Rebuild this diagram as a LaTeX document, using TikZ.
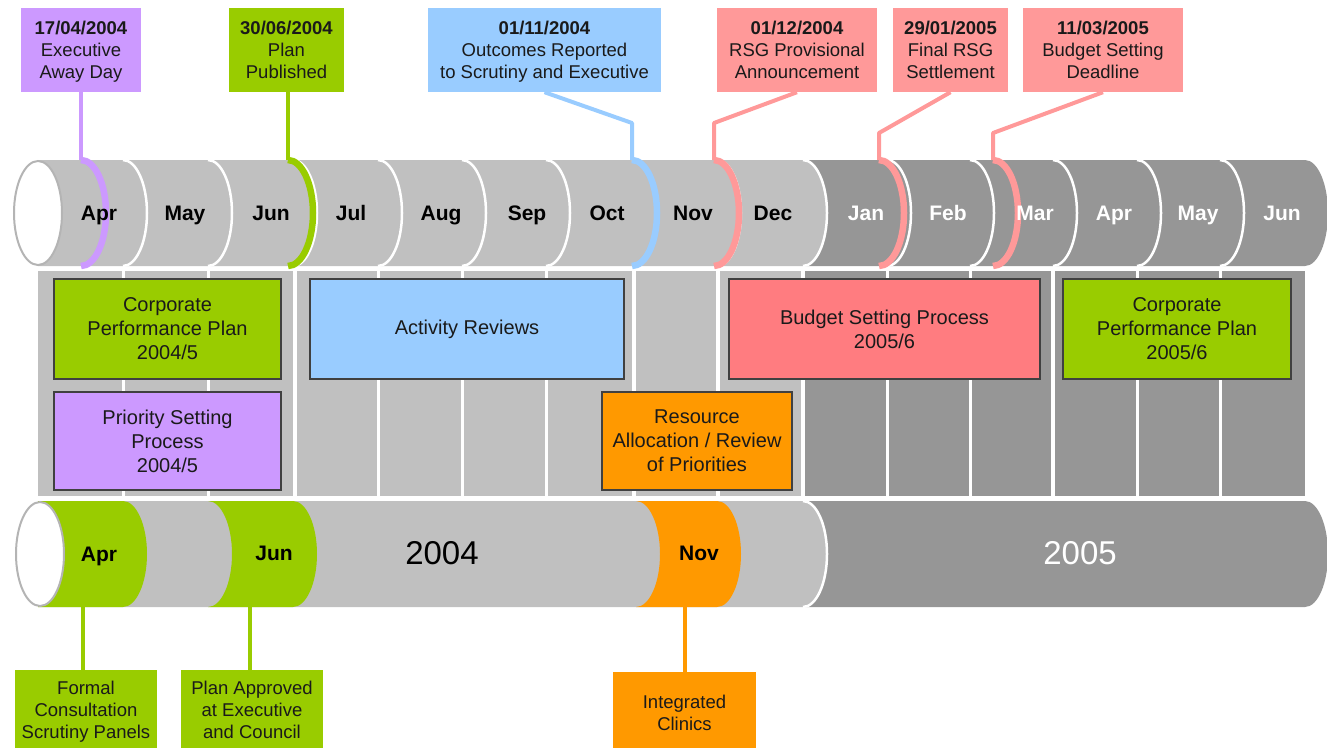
\documentclass[tikz,border=0pt]{standalone}
\usepackage{fontspec}
\setmainfont{Liberation Sans}
\definecolor{lg}{HTML}{C0C0C0}
\definecolor{dg}{HTML}{969696}
\definecolor{capline}{HTML}{B4B4B4}
\definecolor{cpurple}{HTML}{CC99FF}
\definecolor{cgreen}{HTML}{99CC00}
\definecolor{cblue}{HTML}{99CCFF}
\definecolor{cred}{HTML}{FF9999}
\definecolor{corange}{HTML}{FF9900}
\definecolor{cbudget}{HTML}{FF7C80}
\definecolor{boxline}{HTML}{404040}
\definecolor{txt}{HTML}{1A1A1A}
\begin{document}
\begin{tikzpicture}[x=1pt,y=1pt,
  callout/.style={inner sep=0pt, minimum height=84pt},
  ctext/.style={inner sep=0pt, anchor=north, align=center, text=txt, font=\fontsize{18.5}{22}\selectfont},
  midbox/.style={draw=boxline, line width=1.5pt, inner sep=0pt, minimum height=100pt, align=center, text=txt, font=\fontsize{20}{24}\selectfont},
  mlabel/.style={anchor=base, font=\fontsize{21}{25}\selectfont\bfseries},
  stem/.style={line width=4pt},
  marker/.style={line width=6.5pt},
  sepline/.style={white, line width=2.5pt},
  colsep/.style={white, line width=3pt},
  yearlbl/.style={anchor=base, font=\fontsize{33}{38}\selectfont}]
\useasboundingbox (0,-748) rectangle (1327,0);

% ---------- top cylinder ----------
\fill[dg] (1220,-160) -- (1305,-160) arc[start angle=90,end angle=-90,x radius=23,y radius=53] -- (1220,-266) -- cycle;
\foreach \l/\r/\c in {1137/1220/dg, 1053/1137/dg, 970/1053/dg, 887/970/dg, 803/887/dg, 717/803/lg, 632/717/lg, 546/632/lg, 462/546/lg, 378/462/lg, 293/378/lg, 208/293/lg, 123/208/lg, 38/123/lg}{
  \fill[\c] (\l,-160) -- (\r,-160) arc[start angle=90,end angle=-90,x radius=24,y radius=53] -- (\l,-266) -- cycle;
  \draw[sepline] (\r,-160) arc[start angle=90,end angle=-90,x radius=24,y radius=53];
}
\filldraw[fill=white, draw=capline, line width=2pt] (38,-213) ellipse[x radius=24, y radius=52];

% markers on top cylinder
\coordinate (m1) at (81,-160);
\coordinate (m2) at (288,-160);
\coordinate (m3) at (632,-160);
\coordinate (m4) at (714,-160);
\coordinate (m5) at (879,-160);
\coordinate (m6) at (993,-160);
\draw[marker, cpurple] (m1) arc[start angle=90,end angle=-90,x radius=25,y radius=53];
\draw[marker, cgreen] (m2) arc[start angle=90,end angle=-90,x radius=25,y radius=53];
\draw[marker, cblue] (m3) arc[start angle=90,end angle=-90,x radius=25,y radius=53];
\draw[marker, cred] (m4) arc[start angle=90,end angle=-90,x radius=25,y radius=53];
\draw[marker, cred] (m5) arc[start angle=90,end angle=-90,x radius=25,y radius=53];
\draw[marker, cred] (m6) arc[start angle=90,end angle=-90,x radius=25,y radius=53];

% month labels (top)
\foreach \n/\x/\t in {a/99/Apr, b/185/May, c/271/Jun, d/351/Jul, e/441/Aug, f/527/Sep, g/607/Oct, h/693/Nov, i/773/Dec}
  \node[mlabel, text=black] (t\n) at (\x,-220) {\t};
\foreach \n/\x/\t in {j/866/Jan, k/948/Feb, l/1035/Mar, m/1114/Apr, n/1198/May, o/1282/Jun}
  \node[mlabel, text=white] (t\n) at (\x,-220) {\t};

% ---------- top callouts ----------
\node[callout, fill=cpurple, minimum width=120pt] (c1) at (81,-50) {};
\node[callout, fill=cgreen, minimum width=115pt] (c2) at (286.5,-50) {};
\node[callout, fill=cblue, minimum width=233pt] (c3) at (544.5,-50) {};
\node[callout, fill=cred, minimum width=160pt] (c4) at (797,-50) {};
\node[callout, fill=cred, minimum width=115pt] (c5) at (950.5,-50) {};
\node[callout, fill=cred, minimum width=160pt] (c6) at (1103,-50) {};
\node[ctext] (c1t) at (81,-20.5) {\textbf{17/04/2004}\\Executive\\Away Day};
\node[ctext] (c2t) at (286.5,-20.5) {\textbf{30/06/2004}\\Plan\\Published};
\node[ctext] (c3t) at (544.5,-20.5) {\textbf{01/11/2004}\\Outcomes Reported\\to Scrutiny and Executive};
\node[ctext] (c4t) at (797,-20.5) {\textbf{01/12/2004}\\RSG Provisional\\Announcement};
\node[ctext] (c5t) at (950.5,-20.5) {\textbf{29/01/2005}\\Final RSG\\Settlement};
\node[ctext] (c6t) at (1103,-20.5) {\textbf{11/03/2005}\\Budget Setting\\Deadline};

\draw[stem, cpurple] (c1.south) -- (m1);
\draw[stem, cgreen] (c2.south -| m2) -- (m2);
\draw[stem, cblue, line join=round] (c3.south) -- (632,-123) -- (m3);
\draw[stem, cred, line join=round] (c4.south) -- (714,-123) -- (m4);
\draw[stem, cred, line join=round] (c5.south) -- (879,-133) -- (m5);
\draw[stem, cred, line join=round] (c6.south) -- (993,-133) -- (m6);

% ---------- middle panel ----------
\fill[lg] (38,-271) rectangle (803,-496);
\fill[dg] (803,-271) rectangle (1305,-496);
\foreach \x in {123,208,378,462,546,887,970,1137,1220}
  \draw[colsep] (\x,-271) -- (\x,-496);
\foreach \x in {295,634,718,803,1053}
  \draw[white, line width=4.5pt] (\x,-271) -- (\x,-496);

\node[midbox, fill=cgreen, minimum width=227pt] (b1) at (167.5,-329) {Corporate\\Performance Plan\\2004/5};
\node[midbox, fill=cpurple, minimum width=227pt, minimum height=98pt] (b2) at (167.5,-441) {Priority Setting\\Process\\2004/5};
\node[midbox, fill=cblue, minimum width=314pt] (b3) at (467,-329) {Activity Reviews};
\node[midbox, fill=corange, minimum width=190pt, minimum height=98pt] (b4) at (697,-441) {Resource\\Allocation / Review\\of Priorities};
\node[midbox, fill=cbudget, minimum width=311pt] (b5) at (884.5,-329) {Budget Setting Process\\2005/6};
\node[midbox, fill=cgreen, minimum width=228pt] (b6) at (1177,-329) {Corporate\\Performance Plan\\2005/6};

% ---------- bottom cylinder ----------
\fill[dg] (803,-501) -- (1305,-501) arc[start angle=90,end angle=-90,x radius=23,y radius=53] -- (803,-607) -- cycle;
\fill[lg] (38,-501) -- (803,-501) arc[start angle=90,end angle=-90,x radius=24,y radius=53] -- (38,-607) -- cycle;
\draw[sepline] (803,-501) arc[start angle=90,end angle=-90,x radius=24,y radius=53];
\fill[cgreen] (38,-501) -- (123,-501) arc[start angle=90,end angle=-90,x radius=24,y radius=53] -- (38,-607) -- cycle;
\fill[cgreen] (208,-501) -- (293,-501) arc[start angle=90,end angle=-90,x radius=24,y radius=53] -- (208,-607) arc[start angle=-90,end angle=90,x radius=24,y radius=53] -- cycle;
\fill[corange] (636,-501) -- (717,-501) arc[start angle=90,end angle=-90,x radius=24,y radius=53] -- (636,-607) arc[start angle=-90,end angle=90,x radius=24,y radius=53] -- cycle;
\filldraw[fill=white, draw=capline, line width=2pt] (40,-554) ellipse[x radius=24, y radius=52];

\node[mlabel, text=black] (ba) at (99,-561) {Apr};
\node[mlabel, text=black] (bj) at (274,-560) {Jun};
\node[mlabel, text=black] (bn) at (699,-560) {Nov};
\node[yearlbl, text=black] (y4) at (442,-564) {2004};
\node[yearlbl, text=white] (y5) at (1080,-564) {2005};

\coordinate (n1) at (83,-607);
\coordinate (n2) at (250,-607);
\coordinate (n3) at (685,-607);

% ---------- bottom callouts ----------
\fill[cgreen] (15,-670) rectangle (157,-748);
\node[ctext] (d1) at (86,-680.5) {Formal\\Consultation\\Scrutiny Panels};
\fill[cgreen] (181,-670) rectangle (323,-748);
\node[ctext] (d2) at (252,-680.5) {Plan Approved\\at Executive\\and Council};
\fill[corange] (613,-672) rectangle (756,-748);
\node[ctext] (d3) at (684.5,-694.5) {Integrated\\Clinics};
\coordinate (e1) at (83,-671);
\coordinate (e2) at (250,-671);
\coordinate (e3) at (685,-673);
\draw[stem, cgreen] (n1) -- (e1);
\draw[stem, cgreen] (n2) -- (e2);
\draw[stem, corange] (n3) -- (e3);
\end{tikzpicture}
\end{document}
